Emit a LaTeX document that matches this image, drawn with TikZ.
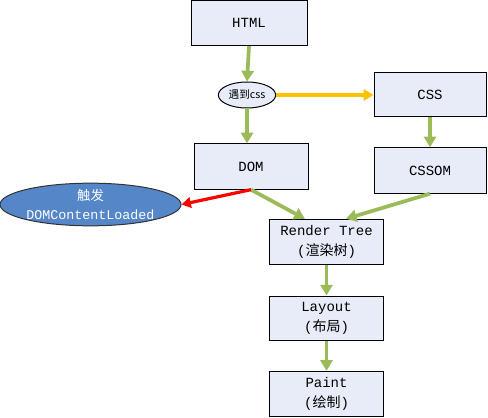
\documentclass[tikz,border=0pt]{standalone}
\usepackage{fontspec}
\setmainfont{Liberation Mono}
\newfontfamily\cjk{Noto Sans CJK SC}
\usetikzlibrary{arrows.meta,shapes.geometric}
\definecolor{boxfill}{RGB}{232,236,248}
\definecolor{agreen}{RGB}{155,187,89}
\definecolor{ayellow}{RGB}{255,192,0}
\definecolor{ablue}{RGB}{84,134,200}
\tikzset{
  box/.style={draw=black, line width=0.75pt, fill=boxfill, minimum width=85pt, minimum height=34pt, align=center, inner sep=0pt, font=\fontsize{10.5}{15}\selectfont},
  garrow/.style={draw=agreen, line width=2.8pt, -{Triangle[length=8pt,width=9pt]}},
  yarrow/.style={draw=ayellow, line width=2.6pt, -{Triangle[length=7.5pt,width=8.5pt]}},
  rarrow/.style={draw=red, line width=2.4pt, -{Triangle[length=7pt,width=8pt]}},
}
\begin{document}
\begin{tikzpicture}[x=0.75pt,y=-0.75pt]
\useasboundingbox (0,0) rectangle (488,417);
\node[box, minimum width=87pt] (html) at (249,23) {HTML};
\node[draw=black, line width=0.75pt, fill=boxfill, ellipse, minimum width=43pt, minimum height=19.5pt, inner sep=0pt, font=\cjk\fontsize{8}{9}\selectfont] (meet) at (247,95) {遇到css};
\node[box, minimum width=84pt, minimum height=33pt] (css) at (430,95) {CSS};
\node[box, minimum width=85.5pt] (dom) at (251,166.5) {DOM};
\node[box, minimum width=84pt] (cssom) at (430,170.5) {CSSOM};
\node[box] (render) at (326.5,242) {Render Tree\\({\cjk 渲染树})};
\node[box, minimum height=33pt] (layout) at (326.5,318) {Layout\\({\cjk 布局})};
\node[box] (paint) at (326.5,394) {Paint\\({\cjk 绘制})};
\node[draw=black!80, line width=0.75pt, fill=ablue, ellipse, minimum width=134pt, minimum height=32pt, inner sep=0pt, align=center, text=white, font=\fontsize{10}{14}\selectfont] (dcl) at (90.5,204.5) {{\cjk 触发}\\DOMContentLoaded};
\draw[garrow] (html.south) -- (meet.north);
\draw[garrow] (meet.south) -- (meet.south |- dom.north);
\draw[yarrow] (meet.east) -- (css.west);
\draw[garrow] (css.south) -- (cssom.north);
\draw[garrow] (dom.south) -- (render.133);
\draw[garrow] (cssom.south) -- (render.50);
\draw[rarrow] (dom.south) -- (dcl.east);
\draw[garrow] (render.south) -- (layout.north);
\draw[garrow] (layout.south) -- (paint.north);
\end{tikzpicture}
\end{document}
